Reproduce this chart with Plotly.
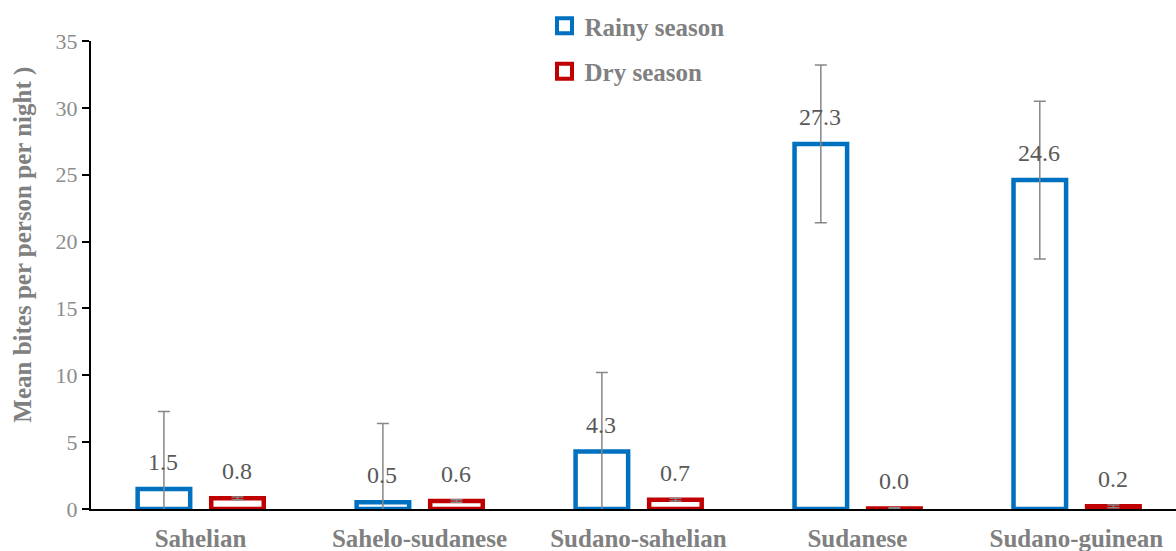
import plotly.graph_objects as go

categories = ["Sahelian", "Sahelo-sudanese", "Sudano-sahelian", "Sudanese", "Sudano-guinean"]
rainy = [1.5, 0.5, 4.3, 27.3, 24.6]
rainy_err = [5.8, 5.9, 5.9, 5.9, 5.9]
dry = [0.8, 0.6, 0.7, 0.04, 0.2]
dry_err = [0.1, 0.1, 0.1, 0.05, 0.1]
y_ticks = [0, 5, 10, 15, 20, 25, 30, 35]
series_names = ["Rainy season", "Dry season"]

FONT = "Liberation Serif, DejaVu Serif, serif"
BLUE = "#0070C0"
RED = "#C00000"
ERR = "#878787"

fig = go.Figure()
fig.add_trace(go.Bar(
    x=categories, y=rainy, name=series_names[0], showlegend=False,
    width=0.24, offset=-0.287,
    marker=dict(color="white", line=dict(color=BLUE, width=4.5)),
    error_y=dict(type="data", array=rainy_err, color=ERR, thickness=1.5, width=6),
))
fig.add_trace(go.Bar(
    x=categories, y=dry, name=series_names[1], showlegend=False,
    width=0.24, offset=0.049,
    marker=dict(color="white", line=dict(color=RED, width=4.5)),
    error_y=dict(type="data", array=dry_err, color=ERR, thickness=1.5, width=6),
))
# legend entries (square outlined markers like the original)
for nm, col, grp in [(series_names[0], BLUE, "a"), (series_names[1], RED, "b")]:
    fig.add_trace(go.Scatter(
        x=[None], y=[None], mode="markers", name=nm, legendgroup=grp,
        marker=dict(symbol="square", size=15, color="white", line=dict(color=col, width=4)),
    ))

annotations = []
for c, v in zip(categories, rainy):
    annotations.append(dict(x=c, y=v, xref="x", yref="y", text=f"{v:.1f}", showarrow=False,
                            xshift=-37, yshift=12, yanchor="bottom",
                            font=dict(family=FONT, size=24, color="#595959")))
for c, v in zip(categories, dry):
    annotations.append(dict(x=c, y=v, xref="x", yref="y", text=f"{v:.1f}", showarrow=False,
                            xshift=37, yshift=12, yanchor="bottom",
                            font=dict(family=FONT, size=24, color="#595959")))
annotations.append(dict(x=-0.063, y=0.564, xref="paper", yref="paper",
                        text="<b>Mean bites per person per night )</b>", textangle=-90,
                        showarrow=False, xanchor="center", yanchor="middle",
                        font=dict(family=FONT, size=25, color="#808080")))

fig.update_layout(
    width=1176, height=551,
    margin=dict(l=91, r=0, t=41, b=42),
    barmode="overlay",
    plot_bgcolor="white", paper_bgcolor="white",
    font=dict(family=FONT),
    showlegend=True,
    legend=dict(x=0.418, y=1.081, xanchor="left", yanchor="top",
                traceorder="grouped", tracegroupgap=10,
                font=dict(family=FONT, size=25, color="#808080", weight="bold"),
                bgcolor="rgba(0,0,0,0)", itemwidth=30),
    annotations=annotations,
)
fig.update_xaxes(
    type="category", range=[-0.5, 4.455], automargin=False,
    showline=True, linecolor="black", linewidth=2,
    ticks="", showgrid=False, ticklabelstandoff=6,
    tickfont=dict(family=FONT, size=25, color="#808080", weight="bold"),
)
fig.update_yaxes(
    range=[0, 35], tickvals=y_ticks, automargin=False,
    showline=True, linecolor="black", linewidth=2,
    ticks="outside", ticklen=7, tickwidth=2, tickcolor="black",
    showgrid=False, zeroline=False,
    tickfont=dict(family=FONT, size=22, color="#8C8C8C"),
)

fig.write_html("out.html", config={"displayModeBar": False},
               post_script="document.body.style.margin='0';")
